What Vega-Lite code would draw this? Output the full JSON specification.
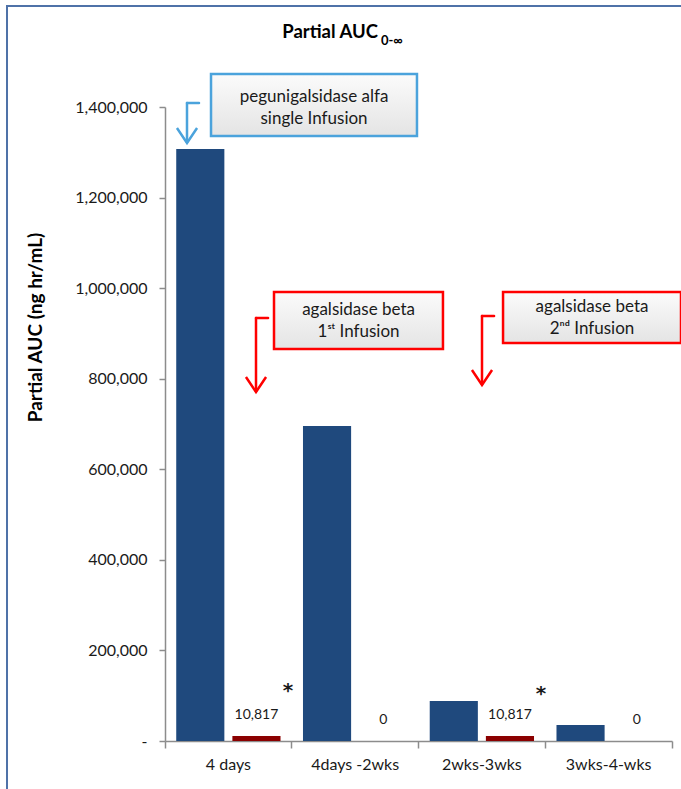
{
  "$schema": "https://vega.github.io/schema/vega-lite/v6.json",
  "width": 507,
  "height": 634,
  "autosize": {"type": "none"},
  "padding": {"left": 165, "top": 107, "right": 9, "bottom": 48},
  "background": "#ffffff",
  "config": {"view": {"stroke": null}, "font": "Lato", "text": {"font": "Lato"}},
  "datasets": {
    "bars": [
      {"cat": "4 days", "series": "pegunigalsidase alfa", "value": 1307300},
      {"cat": "4 days", "series": "agalsidase beta", "value": 10817},
      {"cat": "4days -2wks", "series": "pegunigalsidase alfa", "value": 695600},
      {"cat": "4days -2wks", "series": "agalsidase beta", "value": 0},
      {"cat": "2wks-3wks", "series": "pegunigalsidase alfa", "value": 88300},
      {"cat": "2wks-3wks", "series": "agalsidase beta", "value": 10817},
      {"cat": "3wks-4-wks", "series": "pegunigalsidase alfa", "value": 35300},
      {"cat": "3wks-4-wks", "series": "agalsidase beta", "value": 0}
    ],
    "frame": [
      {"ax": -1.2465, "ax2": 4.3, "value": 1623000, "value2": -130000}
    ],
    "boxes": [
      {"kind": "pegunigalsidase alfa", "ax": 0.363, "ax2": 1.988, "value": 1472900, "value2": 1336000},
      {"kind": "agalsidase beta", "ax": 0.860, "ax2": 2.193, "value": 991500, "value2": 865600},
      {"kind": "agalsidase beta", "ax": 2.667, "ax2": 4.071, "value": 991500, "value2": 878800}
    ],
    "boxtext": [
      {"ax": 1.176, "value": 1422100, "text": "pegunigalsidase alfa"},
      {"ax": 1.176, "value": 1373500, "text": "single Infusion"},
      {"ax": 1.527, "value": 951700, "text": "agalsidase beta"},
      {"ax": 1.527, "value": 903200, "text": "1ˢᵗ Infusion"},
      {"ax": 3.369, "value": 958400, "text": "agalsidase beta"},
      {"ax": 3.369, "value": 909800, "text": "2ⁿᵈ Infusion"}
    ],
    "arrows": [
      {"kind": "pegunigalsidase alfa", "ax": 0.1736, "ax2": 0.268, "value": 1408800, "value2": 1408800},
      {"kind": "pegunigalsidase alfa", "ax": 0.1736, "ax2": 0.1736, "value": 1408800, "value2": 1322000},
      {"kind": "agalsidase beta", "ax": 0.718, "ax2": 0.813, "value": 934100, "value2": 934100},
      {"kind": "agalsidase beta", "ax": 0.718, "ax2": 0.718, "value": 934100, "value2": 772000},
      {"kind": "agalsidase beta", "ax": 2.501, "ax2": 2.596, "value": 938500, "value2": 938500},
      {"kind": "agalsidase beta", "ax": 2.501, "ax2": 2.501, "value": 938500, "value2": 787000}
    ],
    "heads": [
      {"kind": "pegunigalsidase alfa", "ax": 0.1736, "value": 1320500},
      {"kind": "agalsidase beta", "ax": 0.718, "value": 770700},
      {"kind": "agalsidase beta", "ax": 2.501, "value": 786100}
    ],
    "stars": [
      {"ax": 0.97, "value": 110000, "text": "*"},
      {"ax": 2.966, "value": 103500, "text": "*"}
    ],
    "titlemain": [
      {"ax": 1.68, "value": 1566000, "text": "Partial AUC"}
    ],
    "titlesub": [
      {"ax": 1.704, "value": 1545700, "text": "0-∞"}
    ]
  },
  "resolve": {"scale": {"x": "independent"}},
  "layer": [
    {
      "data": {"name": "bars"},
      "mark": {"type": "bar"},
      "encoding": {
        "x": {
          "field": "cat", "type": "nominal",
          "sort": ["4 days", "4days -2wks", "2wks-3wks", "3wks-4-wks"],
          "scale": {"paddingInner": 0, "paddingOuter": 0},
          "axis": {
            "title": null, "labelAngle": 0, "bandPosition": 1, "tickExtra": true,
            "labelFontSize": 16, "labelColor": "#1a1a1a",
            "labelPadding": 8, "tickSize": 7, "tickColor": "#8c8c8c", "domainColor": "#8c8c8c",
            "domainWidth": 1.5, "tickWidth": 1.5
          }
        },
        "xOffset": {
          "field": "series", "type": "nominal",
          "sort": ["pegunigalsidase alfa", "agalsidase beta"],
          "scale": {"paddingInner": 0.143, "paddingOuter": 0.2}
        },
        "y": {
          "field": "value", "type": "quantitative",
          "scale": {"domain": [0, 1400000], "nice": false},
          "axis": {
            "title": "Partial AUC (ng hr/mL)", "titleFontSize": 19, "titleFontWeight": "bold",
            "titleColor": "#000000", "titleX": -130, "titleY": 220, "titleBaseline": "middle",
            "titleAlign": "center", "titleAngle": -90,
            "values": [0, 200000, 400000, 600000, 800000, 1000000, 1200000, 1400000],
            "labelExpr": "datum.value == 0 ? '-\u00a0\u00a0' : format(datum.value, ',')",
            "labelFontSize": 16, "labelColor": "#1a1a1a", "labelPadding": 12,
            "tickSize": 6, "tickColor": "#8c8c8c", "domainColor": "#8c8c8c",
            "domainWidth": 1.5, "tickWidth": 1.5, "grid": false
          }
        },
        "color": {
          "field": "series", "type": "nominal",
          "scale": {"domain": ["pegunigalsidase alfa", "agalsidase beta"], "range": ["#1F497D", "#8B0000"]},
          "legend": null
        }
      }
    },
    {
      "data": {"name": "bars"},
      "transform": [{"filter": "datum.series == 'agalsidase beta'"}],
      "mark": {"type": "text", "baseline": "middle", "dy": -21, "fontSize": 14, "color": "#1a1a1a"},
      "encoding": {
        "x": {"field": "cat", "type": "nominal", "sort": ["4 days", "4days -2wks", "2wks-3wks", "3wks-4-wks"], "scale": {"paddingInner": 0, "paddingOuter": 0}, "axis": null},
        "xOffset": {"field": "series", "type": "nominal", "scale": {"domain": ["pegunigalsidase alfa", "agalsidase beta"], "paddingInner": 0.143, "paddingOuter": 0.2}},
        "y": {"field": "value", "type": "quantitative"},
        "text": {"field": "value", "type": "quantitative", "format": ","}
      }
    },
    {
      "data": {"name": "frame"},
      "mark": {"type": "rect", "fill": null, "stroke": "#4F72A8", "strokeWidth": 2, "clip": false},
      "encoding": {
        "x": {"field": "ax", "type": "quantitative", "scale": {"domain": [0, 4], "nice": false, "zero": false}, "axis": null},
        "x2": {"field": "ax2"},
        "y": {"field": "value", "type": "quantitative"},
        "y2": {"field": "value2"}
      }
    },
    {
      "data": {"name": "boxes"},
      "mark": {"type": "rect", "fill": "#000000", "opacity": 0.18, "xOffset": 3, "yOffset": 3},
      "encoding": {
        "x": {"field": "ax", "type": "quantitative", "scale": {"domain": [0, 4], "nice": false, "zero": false}, "axis": null},
        "x2": {"field": "ax2"},
        "y": {"field": "value", "type": "quantitative"},
        "y2": {"field": "value2"}
      }
    },
    {
      "data": {"name": "boxes"},
      "mark": {
        "type": "rect", "strokeWidth": 2.5,
        "fill": {"gradient": "linear", "x1": 0, "y1": 0, "x2": 0, "y2": 1,
          "stops": [{"offset": 0, "color": "#fbfbfb"}, {"offset": 1, "color": "#e4e4e4"}]}
      },
      "encoding": {
        "x": {"field": "ax", "type": "quantitative", "scale": {"domain": [0, 4], "nice": false, "zero": false}, "axis": null},
        "x2": {"field": "ax2"},
        "y": {"field": "value", "type": "quantitative"},
        "y2": {"field": "value2"},
        "stroke": {"field": "kind", "type": "nominal", "scale": {"domain": ["pegunigalsidase alfa", "agalsidase beta"], "range": ["#4BA3DC", "#FF0000"]}, "legend": null}
      }
    },
    {
      "data": {"name": "boxtext"},
      "mark": {"type": "text", "align": "center", "baseline": "middle", "fontSize": 17, "color": "#1a1a1a"},
      "encoding": {
        "x": {"field": "ax", "type": "quantitative", "scale": {"domain": [0, 4], "nice": false, "zero": false}, "axis": null},
        "y": {"field": "value", "type": "quantitative"},
        "text": {"field": "text"}
      }
    },
    {
      "data": {"name": "arrows"},
      "mark": {"type": "rule", "strokeWidth": 2.5, "strokeCap": "round"},
      "encoding": {
        "x": {"field": "ax", "type": "quantitative", "scale": {"domain": [0, 4], "nice": false, "zero": false}, "axis": null},
        "x2": {"field": "ax2"},
        "y": {"field": "value", "type": "quantitative"},
        "y2": {"field": "value2"},
        "stroke": {"field": "kind", "type": "nominal", "scale": {"domain": ["pegunigalsidase alfa", "agalsidase beta"], "range": ["#4BA3DC", "#FF0000"]}, "legend": null}
      }
    },
    {
      "data": {"name": "heads"},
      "mark": {"type": "point", "shape": "M -0.67 -1 L 0 0 L 0.67 -1", "size": 900, "filled": false, "strokeWidth": 2.5, "opacity": 1},
      "encoding": {
        "x": {"field": "ax", "type": "quantitative", "scale": {"domain": [0, 4], "nice": false, "zero": false}, "axis": null},
        "y": {"field": "value", "type": "quantitative"},
        "stroke": {"field": "kind", "type": "nominal", "scale": {"domain": ["pegunigalsidase alfa", "agalsidase beta"], "range": ["#4BA3DC", "#FF0000"]}, "legend": null}
      }
    },
    {
      "data": {"name": "stars"},
      "mark": {"type": "text", "align": "center", "baseline": "middle", "fontSize": 20, "fontWeight": "bold", "font": "DejaVu Sans", "color": "#1a1a1a"},
      "encoding": {
        "x": {"field": "ax", "type": "quantitative", "scale": {"domain": [0, 4], "nice": false, "zero": false}, "axis": null},
        "y": {"field": "value", "type": "quantitative"},
        "text": {"field": "text"}
      }
    },
    {
      "data": {"name": "titlemain"},
      "mark": {"type": "text", "align": "right", "baseline": "middle", "fontSize": 18.5, "fontWeight": "bold", "color": "#000000"},
      "encoding": {
        "x": {"field": "ax", "type": "quantitative", "scale": {"domain": [0, 4], "nice": false, "zero": false}, "axis": null},
        "y": {"field": "value", "type": "quantitative"},
        "text": {"field": "text"}
      }
    },
    {
      "data": {"name": "titlesub"},
      "mark": {"type": "text", "align": "left", "baseline": "middle", "fontSize": 13, "fontWeight": "bold", "color": "#000000"},
      "encoding": {
        "x": {"field": "ax", "type": "quantitative", "scale": {"domain": [0, 4], "nice": false, "zero": false}, "axis": null},
        "y": {"field": "value", "type": "quantitative"},
        "text": {"field": "text"}
      }
    }
  ]
}
